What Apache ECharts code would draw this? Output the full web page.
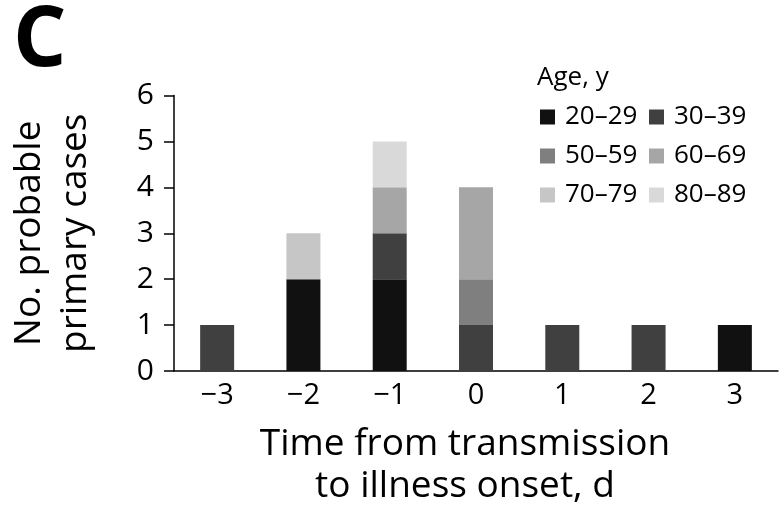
<!DOCTYPE html>
<html>
<head>
<meta charset="utf-8">
<script src="https://cdn.jsdelivr.net/npm/echarts@6/dist/echarts.min.js"></script>
<style>html,body{margin:0;padding:0;background:#fff}#c{width:784px;height:506px}</style>
</head>
<body>
<div id="c"></div>
<script>
var categories = ['\u22123', '\u22122', '\u22121', '0', '1', '2', '3'];
var seriesNames = ['20\u201329', '30\u201339', '50\u201359', '60\u201369', '70\u201379', '80\u201389'];
var age20 = [0, 2, 2, 0, 0, 0, 1];
var age30 = [1, 0, 1, 1, 1, 1, 0];
var age50 = [0, 0, 0, 1, 0, 0, 0];
var age60 = [0, 0, 1, 2, 0, 0, 0];
var age70 = [0, 1, 0, 0, 0, 0, 0];
var age80 = [0, 0, 1, 0, 0, 0, 0];
var colors = ['#111111', '#404040', '#7f7f7f', '#a6a6a6', '#c6c6c6', '#d9d9d9'];
var yTicks = [0, 1, 2, 3, 4, 5, 6];

var FONT = 'Open Sans';
var values = [age20, age30, age50, age60, age70, age80];
var series = seriesNames.map(function (n, i) {
  return {
    name: n, type: 'bar', stack: 'total', data: values[i], barWidth: 34,
    itemStyle: { color: colors[i] }
  };
});

var chart = echarts.init(document.getElementById('c'), null, { renderer: 'canvas' });
var legendCommon = {
  orient: 'vertical', itemWidth: 15, itemHeight: 15, itemGap: 13, icon: 'rect',
  selectedMode: false, padding: 0,
  textStyle: { fontFamily: FONT, fontSize: 26, color: '#000', padding: [0, 0, 0, 5] }
};
chart.setOption({
  animation: false,
  color: colors,
  title: [
    { text: 'C', left: 13, top: 0, padding: 0, textStyle: { fontFamily: FONT, fontSize: 84, fontWeight: 'bold', color: '#000' } },
    { text: 'Age, y', left: 537, top: 65, padding: 0, textStyle: { fontFamily: FONT, fontSize: 26, fontWeight: 'normal', color: '#000' } }
  ],
  legend: [
    Object.assign({ left: 540, top: 104, data: [seriesNames[0], seriesNames[2], seriesNames[4]] }, legendCommon),
    Object.assign({ left: 649, top: 104, data: [seriesNames[1], seriesNames[3], seriesNames[5]] }, legendCommon)
  ],
  grid: { left: 174, right: 6, top: 95.5, bottom: 135, containLabel: false, outerBoundsMode: 'none' },
  xAxis: {
    type: 'category', data: categories,
    name: 'Time from transmission\nto illness onset, d', nameLocation: 'middle', nameGap: 52,
    nameTextStyle: { fontFamily: FONT, fontSize: 37, color: '#000', lineHeight: 42, padding: [0, 22, 0, 0] },
    axisLine: { lineStyle: { color: '#000', width: 1.5 } },
    axisTick: { show: false },
    axisLabel: { fontFamily: FONT, fontSize: 29, color: '#000', margin: 10 }
  },
  yAxis: {
    type: 'value', min: yTicks[0], max: yTicks[yTicks.length - 1], interval: 1,
    name: 'No. probable\nprimary cases', nameLocation: 'middle', nameGap: 76, nameRotate: 90,
    nameTextStyle: { fontFamily: FONT, fontSize: 37, color: '#000', lineHeight: 46 },
    axisLine: { show: true, lineStyle: { color: '#000', width: 1.5 } },
    axisTick: { show: true, length: 10, lineStyle: { color: '#000', width: 1.5 } },
    splitLine: { show: false },
    axisLabel: { fontFamily: FONT, fontSize: 30, color: '#000', margin: 20 }
  },
  series: series
});
</script>
</body>
</html>
